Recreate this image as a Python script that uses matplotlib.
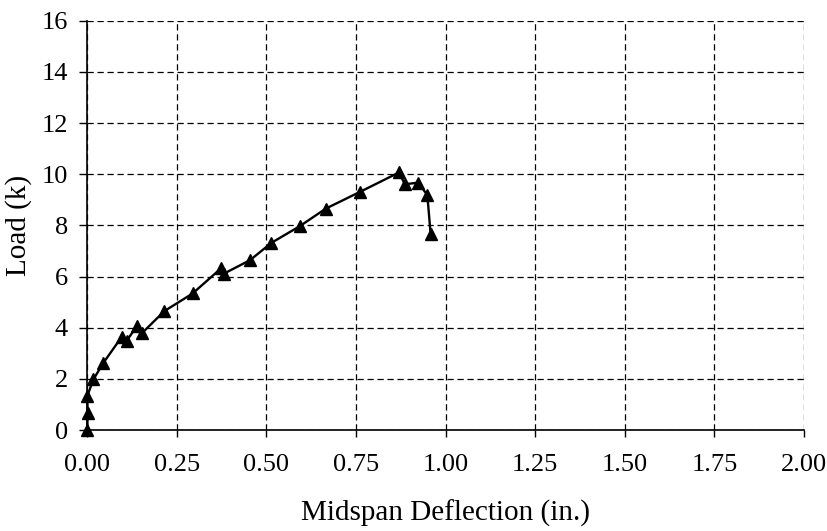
import matplotlib.pyplot as plt

# midspan deflection (in.) and load (k)
deflection = [0.0, 0.001, 0.0, 0.017, 0.045, 0.096, 0.110, 0.138, 0.152, 0.215,
              0.294, 0.373, 0.382, 0.454, 0.514, 0.593, 0.666, 0.761, 0.870,
              0.886, 0.924, 0.949, 0.958]
load = [0.0, 0.65, 1.33, 1.98, 2.63, 3.64, 3.49, 4.06, 3.78, 4.65,
        5.34, 6.32, 6.12, 6.64, 7.32, 7.97, 8.66, 9.31, 10.07,
        9.61, 9.67, 9.18, 7.68]

x_ticks = [0.0, 0.25, 0.5, 0.75, 1.0, 1.25, 1.5, 1.75, 2.0]
y_ticks = list(range(0, 17, 2))

plt.rcParams['font.family'] = ['Liberation Serif', 'DejaVu Serif']

fig = plt.figure(figsize=(8.28, 5.31), dpi=100)
ax = fig.add_axes([0.1054, 0.190, 0.8656, 0.771])

ax.plot(deflection, load, color='black', lw=1.7, marker='^', ms=8,
        markerfacecolor='black', markeredgecolor='black', clip_on=False, zorder=3)

ax.set_xlim(0, 2.0)
ax.set_ylim(0, 16)
ax.set_xticks(x_ticks)
ax.set_xticklabels([f'{v:.2f}' for v in x_ticks])
ax.set_yticks(y_ticks)

ax.grid(True, color='black', linestyle=(0, (5, 3)), linewidth=0.9)
ax.set_axisbelow(True)

for side in ['top', 'right']:
    ax.spines[side].set_visible(False)
for side in ['left', 'bottom']:
    ax.spines[side].set_linewidth(1.2)

ax.tick_params(axis='y', direction='out', length=6, width=1, labelsize=19, pad=8)
ax.tick_params(axis='x', direction='out', length=5, width=1, labelsize=19, pad=12)

ax.set_xlabel('Midspan Deflection (in.)', fontsize=21, labelpad=17)
ax.set_ylabel('Load (k)', fontsize=21, labelpad=7)

fig.savefig('out.png', dpi=100)
